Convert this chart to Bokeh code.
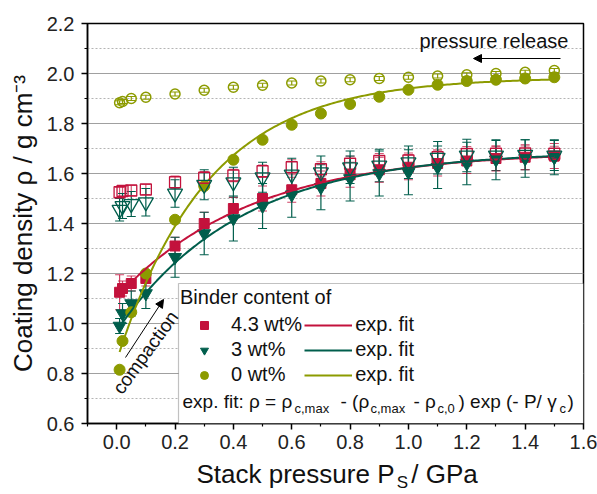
import numpy as np
from bokeh.plotting import figure
from bokeh.models import (ColumnDataSource, Whisker, TeeHead, FixedTicker, PrintfTickFormatter,
                          Legend, LegendItem, Label, Arrow, NormalHead, BoxAnnotation, Range1d,
                          LinearAxis)
from bokeh.embed import file_html
from bokeh.resources import INLINE

# ---------------- data ----------------
pressure = [0.01, 0.02, 0.05, 0.1, 0.2, 0.3, 0.4, 0.5, 0.6, 0.7, 0.8, 0.9, 1.0, 1.1, 1.2, 1.3, 1.4, 1.5]

# compaction (filled symbols)
rho_43 = [1.125, 1.14, 1.16, 1.18, 1.31, 1.40, 1.46, 1.50, 1.535, 1.56, 1.595, 1.615, 1.625, 1.64, 1.65, 1.66, 1.665, 1.67]
err_43 = [0.07, 0.03, 0.03, 0.03, 0.035, 0.045, 0.045, 0.05, 0.05, 0.05, 0.05, 0.05, 0.05, 0.05, 0.05, 0.05, 0.05, 0.05]
rho_3 = [0.99, 1.04, 1.08, 1.12, 1.265, 1.36, 1.42, 1.47, 1.515, 1.545, 1.58, 1.60, 1.605, 1.625, 1.64, 1.655, 1.66, 1.665]
err_3 = [0.03, 0.04, 0.05, 0.06, 0.08, 0.085, 0.09, 0.09, 0.09, 0.09, 0.09, 0.09, 0.09, 0.085, 0.085, 0.08, 0.075, 0.07]
rho_0 = [0.815, 0.93, 1.045, 1.20, 1.415, 1.55, 1.655, 1.735, 1.795, 1.84, 1.878, 1.907, 1.935, 1.955, 1.97, 1.975, 1.98, 1.985]
err_0 = [0.012, 0.01, 0.01, 0.01, 0.01, 0.01, 0.01, 0.01, 0.01, 0.01, 0.01, 0.01, 0.01, 0.01, 0.01, 0.01, 0.01, 0.01]

# pressure release (open symbols)
rho_43_rel = [1.525, 1.53, 1.532, 1.536, 1.565, 1.583, 1.592, 1.609, 1.625, 1.617, 1.639, 1.65, 1.652, 1.665, 1.678, 1.679, 1.68, 1.679]
err_43_rel = [0.02, 0.02, 0.02, 0.02, 0.025, 0.025, 0.025, 0.025, 0.03, 0.03, 0.03, 0.03, 0.03, 0.03, 0.03, 0.03, 0.03, 0.03]
rho_3_rel = [1.455, 1.47, 1.478, 1.485, 1.52, 1.555, 1.565, 1.585, 1.596, 1.605, 1.625, 1.632, 1.645, 1.663, 1.672, 1.672, 1.675, 1.672]
err_3_rel = [0.045, 0.05, 0.05, 0.055, 0.055, 0.06, 0.06, 0.06, 0.065, 0.065, 0.065, 0.065, 0.065, 0.065, 0.065, 0.06, 0.06, 0.06]
rho_0_rel = [1.883, 1.888, 1.90, 1.905, 1.918, 1.933, 1.945, 1.953, 1.962, 1.97, 1.975, 1.98, 1.985, 1.99, 1.995, 2.0, 2.005, 2.012]
err_0_rel = [0.008, 0.008, 0.008, 0.008, 0.008, 0.008, 0.008, 0.008, 0.008, 0.008, 0.008, 0.008, 0.008, 0.008, 0.008, 0.008, 0.008, 0.008]

# exponential fit parameters: rho = rho_max - (rho_max - rho_0) exp(-P/gamma)
fit_rho_max = [1.69, 1.69, 1.985]
fit_rho_0 = [1.105, 0.97, 0.85]
fit_gamma = [0.46, 0.42, 0.31]
fit_p_range = [0.01, 1.5]

series_labels = ["4.3 wt%", "3 wt%", "0 wt%"]
x_ticks = [0.0, 0.2, 0.4, 0.6, 0.8, 1.0, 1.2, 1.4, 1.6]
x_minor = [-0.1, 0.1, 0.3, 0.5, 0.7, 0.9, 1.1, 1.3, 1.5]
y_ticks = [0.6, 0.8, 1.0, 1.2, 1.4, 1.6, 1.8, 2.0, 2.2]
y_minor = [0.7, 0.9, 1.1, 1.3, 1.5, 1.7, 1.9, 2.1]

RED = "#C3123C"
GREEN = "#005E4C"
OLIVE = "#8C9B00"
FONT = "Liberation Sans"

X0, X1, Y0, Y1 = -0.1, 1.6, 0.6, 2.2
FL, FR, FT, FB = 87, 583, 23, 423   # frame in screen px


def sx2x(px):
    return X0 + (px - FL) / (FR - FL) * (X1 - X0)


def sy2y(py):
    return Y1 - (py - FT) / (FB - FT) * (Y1 - Y0)


p = figure(width=597, height=494, x_range=Range1d(X0, X1), y_range=Range1d(Y0, Y1),
           output_backend="svg", toolbar_location=None,
           min_border_left=FL, min_border_right=597 - FR, min_border_top=FT, min_border_bottom=494 - FB)
p.background_fill_color = "white"
p.border_fill_color = "white"
p.outline_line_color = "black"
p.outline_line_width = 1.5

p.xaxis.ticker = FixedTicker(ticks=x_ticks, minor_ticks=x_minor)
p.yaxis.ticker = FixedTicker(ticks=y_ticks, minor_ticks=y_minor)
p.xaxis.formatter = PrintfTickFormatter(format="%.1f")
p.yaxis.formatter = PrintfTickFormatter(format="%.1f")
for ax in (p.xaxis, p.yaxis):
    ax.axis_line_color = "black"
    ax.axis_line_width = 1.5
    ax.major_tick_out = 6
    ax.major_tick_in = 0
    ax.minor_tick_out = 3
    ax.minor_tick_in = 0
    ax.major_tick_line_width = 1.5
    ax.minor_tick_line_width = 1.2
    ax.major_tick_line_color = "black"
    ax.minor_tick_line_color = "black"
    ax.major_label_text_font = FONT
    ax.major_label_text_font_size = "20px"
    ax.major_label_text_color = "#222222"
p.xaxis.major_label_standoff = 5
p.yaxis.major_label_standoff = 7

# y-axis title
p.yaxis.axis_label = "Coating density ρ / g cm⁻³"
p.yaxis.axis_label_text_font = FONT
p.yaxis.axis_label_text_font_size = "26px"
p.yaxis.axis_label_text_font_style = "normal"
p.yaxis.axis_label_text_color = "#111111"
p.yaxis.axis_label_standoff = 6

# x-axis title, written as text pieces (for the subscript S) on label-only axes
xt_main_pos = [sx2x(295), sx2x(444)]
xt_main_text = ["Stack pressure P", "/ GPa"]
xt_sub_pos = [sx2x(402)]
xt_sub_text = ["S"]


def text_axis(pos, texts, size, standoff):
    ax = LinearAxis(ticker=FixedTicker(ticks=pos, minor_ticks=[]),
                    major_label_overrides={k: t for k, t in zip(pos, texts)},
                    axis_line_color=None, major_tick_line_color=None, minor_tick_line_color=None,
                    major_tick_out=0, major_tick_in=0, minor_tick_out=0, minor_tick_in=0,
                    major_label_standoff=standoff, major_label_text_font=FONT,
                    major_label_text_font_size=f"{size}px", major_label_text_color="#111111")
    p.add_layout(ax, "below")


text_axis(xt_main_pos, xt_main_text, 26, 7)
text_axis(xt_sub_pos, xt_sub_text, 17, -19)

p.xgrid.visible = False
p.ygrid.grid_line_color = "#a0a0a0"
p.ygrid.grid_line_width = 1.2
p.ygrid.minor_grid_line_color = "#b4b4b4"
p.ygrid.minor_grid_line_dash = "2 2"
p.ygrid.minor_grid_line_width = 1


def whisk(vals, errs, color, alpha=1.0):
    src = ColumnDataSource(dict(x=pressure, lo=[v - e for v, e in zip(vals, errs)],
                                hi=[v + e for v, e in zip(vals, errs)]))
    w = Whisker(base="x", lower="lo", upper="hi", source=src, dimension="height",
                line_color=color, line_width=1.2, line_alpha=alpha,
                upper_head=TeeHead(size=9, line_color=color, line_width=1.2, line_alpha=alpha),
                lower_head=TeeHead(size=9, line_color=color, line_width=1.2, line_alpha=alpha))
    p.add_layout(w)


whisk(rho_43_rel, err_43_rel, RED, 0.7)
whisk(rho_3_rel, err_3_rel, GREEN)
whisk(rho_0_rel, err_0_rel, OLIVE)
whisk(rho_43, err_43, RED, 0.8)
whisk(rho_3, err_3, GREEN)
whisk(rho_0, err_0, OLIVE)

# filled symbols (compaction)
r43 = p.scatter(pressure, rho_43, marker="square", size=10, color=RED)
r3 = p.scatter(pressure, rho_3, marker="inverted_triangle", size=13, color=GREEN)
r0 = p.scatter(pressure, rho_0, marker="circle", size=11, color=OLIVE)

# fits
fit_renderers = []
pf = np.linspace(fit_p_range[0], fit_p_range[1], 200)
for rmax, r0v, g, col in zip(fit_rho_max, fit_rho_0, fit_gamma, [RED, GREEN, OLIVE]):
    yy = rmax - (rmax - r0v) * np.exp(-pf / g)
    fit_renderers.append(p.line(pf, yy, line_color=col, line_width=2))

# open symbols (pressure release)
p.scatter(pressure, rho_43_rel, marker="square", size=11, line_color=RED, fill_color=None, line_width=1.3)
p.scatter(pressure, rho_3_rel, marker="inverted_triangle", size=15, line_color=GREEN, fill_color=None, line_width=1.3)
p.scatter(pressure, rho_0_rel, marker="circle", size=10, line_color=OLIVE, fill_color=None, line_width=1.5)

# legend box
box = BoxAnnotation(left=sx2x(178), right=X1, top=sy2y(283), bottom=Y0,
                    fill_color="white", fill_alpha=1.0, line_color="#333333", line_width=1.2)
p.add_layout(box)

legend = Legend(items=[LegendItem(label=series_labels[0], renderers=[r43]),
                       LegendItem(label="exp. fit", renderers=[fit_renderers[0]]),
                       LegendItem(label=series_labels[1], renderers=[r3]),
                       LegendItem(label="exp. fit", renderers=[fit_renderers[1]]),
                       LegendItem(label=series_labels[2], renderers=[r0]),
                       LegendItem(label="exp. fit", renderers=[fit_renderers[2]])],
                orientation="horizontal", ncols=2,
                title="Binder content of", title_text_font=FONT, title_text_font_size="20px",
                title_text_font_style="normal", title_text_color="#111111", title_standoff=4,
                label_text_font=FONT, label_text_font_size="20px", label_text_color="#111111",
                glyph_width=48, glyph_height=20, label_height=20, label_standoff=3, spacing=2,
                padding=3, margin=0, location=(90, 34),
                background_fill_alpha=0, border_line_alpha=0)
p.add_layout(legend)


def lab(text, px, py, size, color="#111111", **kw):
    p.add_layout(Label(x=sx2x(px), y=sy2y(py), text=text, text_font=FONT,
                       text_font_size=f"{size}px", text_baseline="middle",
                       text_align=kw.pop("align", "left"), text_color=color, **kw))


# formula line in legend box
MY, SY = 401, 408
lab("exp. fit: ρ = ρ", 182, MY, 19)
lab("c,max", 294, SY, 13)
lab("- (ρ", 340, MY, 19)
lab("c,max", 370, SY, 13)
lab("- ρ", 413, MY, 19)
lab("c,0", 437, SY, 13)
lab(") exp (- P/ γ", 458, MY, 19)
lab("c", 559, SY, 13)
lab(")", 567, MY, 19)

# annotations
lab("pressure release", 419, 40, 20)
p.add_layout(Arrow(end=NormalHead(size=8, fill_color="black", line_color="black"),
                   x_start=sx2x(560), y_start=sy2y(58), x_end=sx2x(473), y_end=sy2y(58),
                   line_color="black", line_width=1))
lab("compaction", 145, 352, 19, align="center", angle=np.deg2rad(54))
p.add_layout(Arrow(end=NormalHead(size=8, fill_color="black", line_color="black"),
                   x_start=sx2x(125), y_start=sy2y(357), x_end=sx2x(163), y_end=sy2y(299),
                   line_color="black", line_width=1))

open("out.html", "w").write(file_html(p, INLINE))
